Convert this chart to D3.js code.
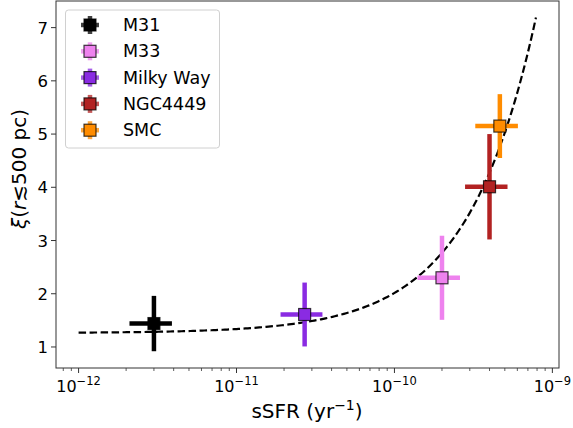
<!DOCTYPE html>
<html><head><meta charset="utf-8">
<script src="https://cdn.jsdelivr.net/npm/d3@7"></script>
<style>body{margin:0;background:#fff}svg{display:block}text{font-family:"DejaVu Sans",sans-serif}</style>
</head><body><svg id="c" width="573" height="428"></svg>
<script>
const names = ["M31","M33","Milky Way","NGC4449","SMC"];
const colors = ["#000000","#ee82ee","#8a2be2","#b22222","#ff8c00"];
const ssfr = [3.0e-12, 2.0e-10, 2.7e-11, 4.0e-10, 4.65e-10];
const ssfrErr = [0.9e-12, 0.6e-10, 0.8e-11, 1.2e-10, 1.4e-10];
const xi = [1.44, 2.30, 1.61, 4.01, 5.15];
const xiErr = [0.52, 0.79, 0.60, 0.99, 0.60];
const fitIntercept = 1.262, fitSlope = 7.53e9;
const fitRange = [1e-12, 7.87e-10];
const xTicks = [1e-12,1e-11,1e-10,1e-9];
const xTickExp = ["−12","−11","−10","−9"];
const yTicks = [1,2,3,4,5,6,7];

const svg = d3.select("#c");
const L=56, R=559, T=1, B=368;
const x = d3.scaleLog().domain([Math.pow(10,-12.143), Math.pow(10,-8.958)]).range([L,R]);
const y = d3.scaleLinear().domain([0.605,7.5]).range([B,T]);

// fit curve
const fitX = d3.range(0,201).map(i=>Math.pow(10, Math.log10(fitRange[0]) + i/200*(Math.log10(fitRange[1])-Math.log10(fitRange[0]))));
svg.append("path").datum(fitX)
  .attr("d", d3.line().x(d=>x(d)).y(d=>y(fitIntercept+fitSlope*d)))
  .attr("fill","none").attr("stroke","#000").attr("stroke-width",2.2).attr("stroke-dasharray","7.5,3.5");

// error bars + markers
names.forEach((n,i)=>{
  const g = svg.append("g");
  g.append("line").attr("x1",x(ssfr[i]-ssfrErr[i])).attr("x2",x(ssfr[i]+ssfrErr[i]))
    .attr("y1",y(xi[i])).attr("y2",y(xi[i])).attr("stroke",colors[i]).attr("stroke-width",4.5);
  g.append("line").attr("x1",x(ssfr[i])).attr("x2",x(ssfr[i]))
    .attr("y1",y(xi[i]-xiErr[i])).attr("y2",y(xi[i]+xiErr[i])).attr("stroke",colors[i]).attr("stroke-width",4.5);
  g.append("rect").attr("x",x(ssfr[i])-6).attr("y",y(xi[i])-6).attr("width",12).attr("height",12)
    .attr("fill",colors[i]).attr("stroke","#000").attr("stroke-opacity",0.75).attr("stroke-width",1.2);
});

// frame
svg.append("rect").attr("x",L).attr("y",T).attr("width",R-L).attr("height",B-T)
  .attr("fill","none").attr("stroke","#333").attr("stroke-width",1);

// x ticks
const xa = svg.append("g");
const minor = [];
for(let e=-13;e<=-9;e++) for(let k=2;k<=9;k++){const v=k*Math.pow(10,e); if(x(v)>=L&&x(v)<=R) minor.push(v);}
minor.forEach(v=>xa.append("line").attr("x1",x(v)).attr("x2",x(v)).attr("y1",B).attr("y2",B+3).attr("stroke","#333").attr("stroke-width",0.8));
xTicks.forEach((v,i)=>{
  xa.append("line").attr("x1",x(v)).attr("x2",x(v)).attr("y1",B).attr("y2",B+5).attr("stroke","#333").attr("stroke-width",1);
  const t = xa.append("text").attr("x",x(v)).attr("y",B+24).attr("text-anchor","middle").attr("font-size",16).attr("fill","#000");
  t.append("tspan").text("10");
  t.append("tspan").attr("dy",-7).attr("font-size",11.5).text(xTickExp[i]);
});
// y ticks
yTicks.forEach(v=>{
  svg.append("line").attr("x1",L-5).attr("x2",L).attr("y1",y(v)).attr("y2",y(v)).attr("stroke","#333").attr("stroke-width",1);
  svg.append("text").attr("x",L-8).attr("y",y(v)+6).attr("text-anchor","end").attr("font-size",16.5).attr("fill","#000").text(v);
});

// axis labels
const xl = svg.append("text").attr("x",307).attr("y",418).attr("text-anchor","middle").attr("font-size",20).attr("fill","#000");
xl.append("tspan").text("sSFR (yr");
xl.append("tspan").attr("dy",-8).attr("font-size",14).text("−1");
xl.append("tspan").attr("dy",8).text(")");

const yl = svg.append("text").attr("transform","translate(26,169) rotate(-90)").attr("text-anchor","middle").attr("font-size",20).attr("fill","#000");
yl.append("tspan").attr("font-style","italic").text("ξ");
yl.append("tspan").text("(");
yl.append("tspan").attr("font-style","italic").text("r");
yl.append("tspan").text("≲500 pc)");

// legend
const lg = svg.append("g");
lg.append("rect").attr("x",65.5).attr("y",10).attr("width",154).attr("height",138).attr("rx",3)
  .attr("fill","#fff").attr("fill-opacity",0.8).attr("stroke","#d0d0d0").attr("stroke-width",1);
names.forEach((n,i)=>{
  const cy = 25 + i*26.3, cx = 90;
  lg.append("line").attr("x1",cx-9).attr("x2",cx+9).attr("y1",cy).attr("y2",cy).attr("stroke",colors[i]).attr("stroke-width",4.5).attr("stroke-opacity",0.75);
  lg.append("line").attr("x1",cx).attr("x2",cx).attr("y1",cy-9).attr("y2",cy+9).attr("stroke",colors[i]).attr("stroke-width",4.5).attr("stroke-opacity",0.75);
  lg.append("rect").attr("x",cx-6).attr("y",cy-6).attr("width",12).attr("height",12)
    .attr("fill",colors[i]).attr("stroke","#000").attr("stroke-opacity",0.75).attr("stroke-width",1.2);
  lg.append("text").attr("x",123).attr("y",cy+6).attr("font-size",17.5).attr("fill","#000").text(n);
});
</script></body></html>
